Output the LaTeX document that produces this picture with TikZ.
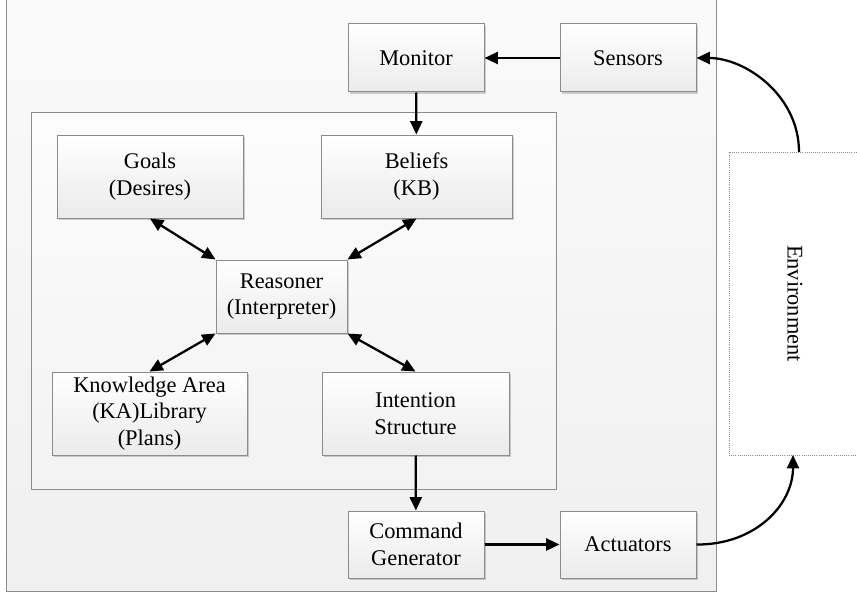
\documentclass[tikz,border=0pt]{standalone}
\usepackage{fontspec}
\setmainfont{Liberation Serif}
\usetikzlibrary{arrows.meta,shadows}
\definecolor{edgegray}{HTML}{8C8C8C}
\definecolor{shadegray}{HTML}{EBEBEB}
\tikzset{
  px/.style={x=0.75pt,y=-0.75pt},
  block/.style={draw=edgegray, line width=0.75pt, top color=white, bottom color=shadegray,
    align=center, inner sep=2pt, font=\fontsize{16.8}{20}\selectfont,
    drop shadow={shadow xshift=1.2pt, shadow yshift=-1.2pt, fill=black, opacity=0.18}},
  tip/.style={Triangle[length=10pt,width=9pt]},
  link/.style={line width=1.7pt, -{Triangle[length=10pt,width=9pt]}},
  twoway/.style={line width=1.7pt, {Triangle[length=10pt,width=9pt]}-{Triangle[length=10pt,width=9pt]}},
}
\begin{document}
\begin{tikzpicture}[px]
\useasboundingbox (0,0) rectangle (857,592);
\fill[white] (0,0) rectangle (857,592);

% agent frame and reasoning core
\path[draw=edgegray, line width=0.75pt, top color=white!98!black, bottom color=black!6]
  (6,-3) rectangle (716,591);
\path[draw=edgegray, line width=0.75pt, top color=white!99!black, bottom color=black!5]
  (31,113) rectangle (556,489);

% environment
\node[draw=edgegray, densely dotted, line width=0.6pt, fill=white,
      minimum width={132*0.75pt}, minimum height={303*0.75pt}, inner sep=0pt]
      (env) at (795,303.5) {};
\node[rotate=-90, font=\fontsize{16.8}{20}\selectfont] (envlabel) at (env.center) {Environment};

% blocks
\node[block, minimum width={136*0.75pt}, minimum height={68*0.75pt}] (monitor) at (416,58) {Monitor};
\node[block, minimum width={136*0.75pt}, minimum height={68*0.75pt}] (sensors) at (628,58) {Sensors};
\node[block, minimum width={186*0.75pt}, minimum height={83*0.75pt}] (goals) at (150,176.5) {Goals\\(Desires)};
\node[block, minimum width={191*0.75pt}, minimum height={83*0.75pt}] (beliefs) at (416.5,176.5) {Beliefs\\(KB)};
\node[block, minimum width={131*0.75pt}, minimum height={73*0.75pt}] (reasoner) at (281.5,296.5) {Reasoner\\(Interpreter)};
\node[block, minimum width={195*0.75pt}, minimum height={83*0.75pt}] (ka) at (149.5,413.5) {Knowledge Area\\(KA)Library\\(Plans)};
\node[block, minimum width={187*0.75pt}, minimum height={83*0.75pt}] (intention) at (415.5,413.5) {Intention\\Structure};
\node[block, minimum width={136*0.75pt}, minimum height={67*0.75pt}] (command) at (416,544.5) {Command\\Generator};
\node[block, minimum width={136*0.75pt}, minimum height={67*0.75pt}] (actuators) at (628,544.5) {Actuators};

% connectors
\draw[link] (sensors) -- (monitor);
\draw[link] (monitor) -- (beliefs);
\draw[twoway] (goals.south) -- (reasoner.north west);
\draw[twoway] (beliefs.south) -- (reasoner.north east);
\draw[twoway] (reasoner.south west) -- (ka.north);
\draw[twoway] (reasoner.south east) -- (intention.north);
\draw[link] (intention) -- (command);
\draw[link] (command) -- (actuators);

\coordinate (envtop) at (799,152);
\coordinate (envbot) at (793,455);
\draw[link] (envtop) .. controls (799,95) and (745,58) .. (sensors.east);
\draw[link] (actuators.east) .. controls (755,545) and (793,505) .. (envbot);
\end{tikzpicture}
\end{document}
